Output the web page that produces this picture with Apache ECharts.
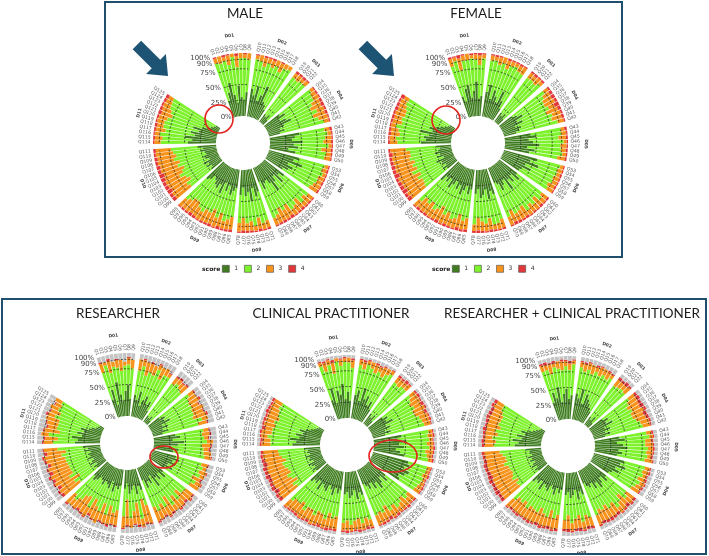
<!DOCTYPE html>
<html>
<head>
<meta charset="utf-8">
<script src="https://cdn.jsdelivr.net/npm/echarts@6/dist/echarts.min.js"></script>
<style>
  html, body { margin: 0; padding: 0; background: #fff; }
  #chart { width: 709px; height: 556px; }
</style>
</head>
<body>
<div id="chart"></div>
<script>
// question groups (domains), clockwise from the top
var groupNames = ['D01', 'D02', 'D03', 'D04', 'D05', 'D06', 'D07', 'D08', 'D09', 'D10', 'D11'];
var groupSizes = [9, 9, 4, 9, 8, 7, 11, 8, 14, 13, 12];
var questions = ['Q1','Q2','Q3','Q4','Q5','Q6','Q7','Q8','Q9',
  'Q10','Q11','Q12','Q13','Q14','Q15','Q16','Q17','Q18',
  'Q19','Q20','Q21','Q22',
  'Q34','Q35','Q36','Q37','Q38','Q39','Q40','Q41','Q42',
  'Q43','Q44','Q45','Q46','Q47','Q48','Q49','Q50',
  'Q53','Q54','Q55','Q56','Q57','Q58','Q59',
  'Q60','Q61','Q62','Q63','Q64','Q65','Q66','Q67','Q68','Q69','Q70',
  'Q71','Q72','Q73','Q74','Q75','Q76','Q77','Q78',
  'Q85','Q86','Q87','Q88','Q89','Q90','Q91','Q92','Q93','Q94','Q95','Q96','Q97','Q98',
  'Q99','Q100','Q101','Q102','Q103','Q104','Q105','Q106','Q107','Q108','Q109','Q110','Q111',
  'Q114','Q115','Q116','Q117','Q118','Q119','Q120','Q121','Q122','Q123','Q124','Q125'];
var scoreNames = ['1', '2', '3', '4'];
var radiusTicks = [0, 25, 50, 75, 90, 100];
var ringLevels = [25, 50, 75, 90];

// % of answers per score, one value per question
var male1 = [28,40,55,35,22,48,30,25,38, 45,35,50,28,38,55,30,25,20, 15,12,18,10, 30,38,25,35,42,28,20,24,18, 48,40,35,52,38,45,30,42, 50,42,58,36,46,40,32, 40,32,45,28,36,50,34,26,30,38,24, 38,45,30,50,35,42,28,40, 30,35,42,28,38,25,45,32,40,36,30,26,34,38, 22,18,25,20,28,16,22,24,18,20,26,22,30, 45,38,50,35,42,30,40,25,20,14,10,8];
var male2 = [62,48,36,48,73,30,62,67,52, 47,55,33,62,47,35,53,67,74, 73,75,72,80, 62,51,63,47,35,57,56,59,72, 40,52,53,33,55,37,60,46, 42,47,35,52,43,46,51, 48,51,45,50,49,38,41,55,44,45,62, 47,43,48,40,47,43,48,44, 46,46,43,45,45,46,34,45,44,44,43,47,45,45, 42,49,32,42,42,47,36,43,44,50,39,47,42, 43,47,40,47,44,56,43,52,61,71,76,79];
var male3 = [8,12,6,15,5,18,8,6,10, 6,10,14,8,12,10,15,8,6, 8,10,6,8, 6,8,10,14,18,12,20,15,8, 8,6,10,12,5,15,8,10, 6,8,5,10,8,12,14, 10,14,8,18,12,10,20,16,22,14,12, 12,10,18,8,15,12,20,14, 20,16,12,22,15,25,18,20,14,16,22,24,18,15, 30,28,35,32,25,30,34,28,32,26,30,28,24, 10,12,8,15,10,12,14,18,15,12,10,8];
var male4 = [2,0,3,2,0,4,0,2,0, 2,0,3,2,3,0,2,0,0, 4,3,4,2, 2,3,2,4,5,3,4,2,2, 4,2,2,3,2,3,2,2, 2,3,2,2,3,2,3, 2,3,2,4,3,2,5,3,4,3,2, 3,2,4,2,3,3,4,2, 4,3,3,5,2,4,3,3,2,4,5,3,3,2, 6,5,8,6,5,7,8,5,6,4,5,3,4, 2,3,2,3,4,2,3,5,4,3,4,5];

var female1 = [35,25,45,50,30,40,55,28,32, 40,52,30,45,36,28,48,34,22, 18,14,20,12, 25,32,40,28,36,22,30,26,20, 42,50,38,45,55,36,48,40, 55,45,60,40,50,38,35, 36,44,30,40,32,48,28,35,42,30,26, 42,36,48,32,40,45,30,38, 32,40,28,36,44,30,38,26,34,42,28,36,30,40, 20,26,18,24,22,30,16,25,20,28,22,18,24, 48,40,44,36,50,32,38,28,22,16,12,10];
var female2 = [50,67,30,40,60,52,35,53,60, 50,39,56,45,47,62,44,53,64, 69,74,66,79, 64,51,39,50,46,53,53,54,68, 48,40,47,48,33,53,44,45, 38,45,31,48,40,47,53, 49,46,50,48,51,42,50,47,42,45,58, 41,52,41,46,46,37,46,49, 46,43,45,46,41,46,45,45,45,42,46,45,46,46, 45,37,44,44,38,42,46,42,42,41,44,48,48, 37,48,38,49,40,50,46,53,59,68,75,76];
var female3 = [12,6,20,8,10,5,8,15,6, 8,6,12,10,14,8,6,10,12, 10,8,12,6, 8,12,15,18,10,20,14,16,10, 6,8,12,5,10,8,6,12, 5,8,6,10,8,12,10, 12,8,16,10,14,8,18,15,12,20,14, 14,10,8,18,12,15,20,10, 18,14,22,16,12,20,15,24,18,14,22,16,20,12, 28,32,30,26,34,24,30,28,32,26,30,28,25, 12,10,14,12,8,15,12,16,14,12,10,8];
var female4 = [3,2,5,2,0,3,2,4,2, 2,3,2,0,3,2,2,3,2, 3,4,2,3, 3,5,6,4,8,5,3,4,2, 4,2,3,2,2,3,2,3, 2,2,3,2,2,3,2, 3,2,4,2,3,2,4,3,4,5,2, 3,2,3,4,2,3,4,3, 4,3,5,2,3,4,2,5,3,2,4,3,4,2, 7,5,8,6,6,4,8,5,6,5,4,6,3, 3,2,4,3,2,3,4,3,5,4,3,6];

var res1 = [30,45,20,55,35,25,40,50,28, 35,28,42,20,30,38,25,32,18, 12,10,15,8, 22,30,26,35,20,28,18,24,16, 35,42,30,48,38,28,40,32, 38,45,35,42,30,40,28, 30,38,24,35,28,42,20,32,26,36,22, 35,28,40,25,32,38,22,30, 25,32,28,38,22,35,30,26,34,28,24,32,36,30, 18,22,15,25,20,16,24,19,22,17,26,20,28, 40,35,45,30,38,28,34,22,18,12,10,8];
var res2 = [45,40,51,25,43,47,40,32,48, 39,54,26,55,42,46,45,48,62, 63,70,61,65, 58,46,47,39,52,44,51,58,58, 45,35,50,36,38,51,40,50, 42,39,45,42,43,42,48, 45,36,40,43,38,38,40,44,41,40,45, 25,21,40,28,34,39,25,44, 40,38,32,38,37,39,38,32,42,31,38,40,42,41, 35,38,32,38,35,40,32,38,36,41,37,35,40, 35,32,37,35,33,42,36,57,54,66,66,70];
var res3 = [15,5,20,8,12,18,6,10,14, 18,10,22,14,16,8,20,12,6, 12,8,10,14, 10,14,18,12,20,16,22,10,14, 8,12,6,10,14,8,12,10, 10,6,12,8,14,10,16, 14,18,22,12,25,10,28,16,20,14,24, 30,38,12,35,20,15,40,18, 24,18,30,14,28,20,22,26,16,30,24,18,12,20, 32,28,35,26,30,34,28,32,25,30,28,30,22, 15,20,12,25,14,18,22,12,16,14,10,12];
var res4 = [2,0,3,0,2,0,0,2,0, 0,2,0,3,0,2,0,0,2, 3,4,2,3, 2,0,3,2,0,2,3,0,2, 2,3,2,0,2,3,0,2, 2,0,2,0,3,2,0, 3,2,4,2,3,0,4,2,3,2,3, 2,3,2,4,2,0,3,2, 3,2,4,2,3,0,2,4,2,3,4,2,0,3, 5,4,6,3,5,4,6,3,5,4,3,5,2, 2,3,0,2,3,2,0,3,2,0,2,0];
var resNA = [8,10,6,12,8,10,14,6,10, 8,6,10,8,12,6,10,8,12, 10,8,12,10, 8,10,6,12,8,10,6,8,10, 10,8,12,6,8,10,8,6, 8,10,6,8,10,6,8, 8,6,10,8,6,10,8,6,10,8,6, 8,10,6,8,12,8,10,6, 8,10,6,8,10,6,8,12,6,8,10,8,10,6, 10,8,12,8,10,6,10,8,12,8,6,10,8, 8,10,6,8,12,10,8,6,10,8,12,10];

var clin1 = [32,50,25,45,38,55,30,42,28, 38,46,30,52,35,42,28,36,24, 20,15,22,12, 28,35,30,40,25,32,22,30,20, 45,38,52,40,48,35,42,50, 58,62,55,65,60,52,56, 35,42,30,38,45,32,40,28,36,30,25, 40,35,45,30,38,42,32,36, 30,36,28,40,32,26,38,34,30,42,28,35,32,38, 20,24,18,22,26,16,22,20,25,18,22,20,26, 44,38,48,34,40,30,36,26,20,15,12,10];
var clin2 = [56,28,62,27,53,28,59,46,52, 48,34,59,33,44,42,50,49,65, 62,65,62,72, 55,44,45,39,49,43,58,52,64, 43,48,36,44,40,47,43,38, 31,27,31,24,28,34,28, 44,41,45,43,40,44,42,42,43,45,53, 41,41,39,45,40,42,45,45, 42,40,40,40,41,45,42,39,43,39,42,41,43,43, 39,39,34,37,38,40,36,42,39,39,40,46,41, 35,41,36,44,38,45,42,46,56,62,68,68];
var clin3 = [6,14,8,18,5,10,6,8,12, 8,12,6,10,14,8,16,10,6, 10,12,8,10, 10,14,18,12,20,16,14,12,10, 6,8,5,10,6,12,8,6, 6,5,8,4,6,8,10, 14,10,18,12,8,16,12,20,14,18,16, 12,15,10,18,14,10,16,12, 20,16,24,14,18,22,15,18,20,14,22,16,18,14, 30,28,34,30,26,32,30,28,26,30,28,26,24, 14,12,10,16,12,18,14,20,16,15,12,14];
var clin4 = [2,3,2,4,0,2,2,0,3, 2,3,2,0,3,2,2,0,2, 4,3,5,2, 3,4,2,5,3,4,2,3,2, 2,3,2,2,3,2,2,3, 2,2,3,2,2,3,2, 3,2,4,3,2,4,3,5,3,4,2, 3,4,2,4,3,2,4,3, 4,3,5,2,4,3,2,4,3,2,4,3,3,2, 6,5,8,7,5,6,8,5,6,7,5,4,4, 3,4,2,3,5,3,4,3,5,4,3,4];
var clinNA = [4,5,3,6,4,5,3,4,5, 4,5,3,5,4,6,4,5,3, 4,5,3,4, 4,3,5,4,3,5,4,3,4, 4,3,5,4,3,4,5,3, 3,4,3,5,4,3,4, 4,5,3,4,5,4,3,5,4,3,4, 4,5,4,3,5,4,3,4, 4,5,3,4,5,4,3,5,4,3,4,5,4,3, 5,4,6,4,5,6,4,5,4,6,5,4,5, 4,5,4,3,5,4,4,5,3,4,5,4];

var rc1 = [30,45,35,52,28,40,48,32,38, 42,35,50,28,45,38,32,26,22, 16,12,20,10, 26,34,28,38,22,30,20,28,18, 40,48,35,45,52,38,44,36, 50,45,55,40,48,38,34, 34,40,28,36,42,30,38,26,32,28,22, 38,32,44,28,36,40,30,35, 28,34,26,38,30,24,36,32,28,40,26,33,30,36, 18,22,16,24,20,15,22,18,24,16,20,19,25, 42,36,46,32,40,28,35,24,18,14,10,8];
var rc2 = [51,37,39,32,53,38,36,46,49, 42,43,33,49,38,41,51,53,62, 61,67,61,69, 52,39,40,35,47,39,53,50,62, 43,39,45,35,32,44,40,45, 34,37,30,39,37,43,43, 40,40,39,41,41,40,38,41,40,40,54, 37,38,36,40,37,40,37,40, 40,40,36,37,41,40,37,39,41,36,41,40,39,41, 38,36,36,36,36,39,34,39,39,41,38,43,41, 33,36,32,38,35,40,38,47,52,59,67,69];
var rc3 = [10,8,16,6,12,14,8,10,6, 8,12,10,15,8,14,10,12,6, 12,10,8,12, 12,16,20,14,22,18,16,14,12, 8,6,10,12,8,10,6,12, 8,10,6,12,8,10,14, 16,12,20,14,10,18,14,22,18,20,16, 15,18,12,20,16,12,22,14, 22,18,26,16,20,24,18,20,22,15,24,18,20,16, 32,30,35,28,32,34,30,30,26,32,30,28,25, 15,18,12,20,14,22,16,20,18,15,14,12];
var rc4 = [3,5,2,4,0,3,2,4,2, 2,3,2,0,3,2,0,3,2, 5,4,6,3, 4,6,5,7,4,6,5,3,2, 3,2,3,2,3,2,3,2, 2,3,2,3,2,3,2, 4,3,6,3,2,5,4,6,4,5,3, 4,5,3,6,4,3,5,4, 4,3,5,3,4,5,3,4,3,2,4,3,4,2, 6,5,8,6,5,7,8,6,5,6,5,4,4, 4,5,3,4,6,3,5,4,6,5,4,5];
var rcNA = [6,5,8,6,7,5,6,8,5, 6,7,5,8,6,5,7,6,8, 6,7,5,6, 6,5,7,6,5,7,6,5,6, 6,5,7,6,5,6,7,5, 6,5,7,6,5,6,7, 6,5,7,6,5,7,6,5,6,7,5, 6,7,5,6,7,5,6,7, 6,5,7,6,5,7,6,5,6,7,5,6,7,5, 6,7,5,6,7,5,6,7,6,5,7,6,5, 6,5,7,6,5,7,6,5,6,7,5,6];

var scoreColors = ['#3f7d20', '#7ff22e', '#f7941d', '#e2383b'];
var naColor = '#c4c4c4';
var frameColor = '#1f4f6d';

var panels = [
  { title: 'MALE', tx: 245, ty: 13, center: [243, 143], scores: [male1, male2, male3, male4] },
  { title: 'FEMALE', tx: 476, ty: 13, center: [478, 143], scores: [female1, female2, female3, female4] },
  { title: 'RESEARCHER', tx: 118, ty: 313, center: [127, 443], scores: [res1, res2, res3, res4], na: resNA },
  { title: 'CLINICAL PRACTITIONER', tx: 331, ty: 313, center: [347, 445], scores: [clin1, clin2, clin3, clin4], na: clinNA },
  { title: 'RESEARCHER + CLINICAL PRACTITIONER', tx: 572, ty: 313, center: [568, 446], scores: [rc1, rc2, rc3, rc4], na: rcNA }
];

// angle slots: questions, one empty slot between domains, a wide empty wedge at the end
var TAIL_GAP = 13;
var cats = [], slots = [], groupSpans = [];
var k = 0;
groupSizes.forEach(function (n, g) {
  var first = cats.length;
  for (var j = 0; j < n; j++) { cats.push(questions[k]); slots.push(k); k++; }
  groupSpans.push([100, first, cats.length - 1, g]);
  var gaps = g < groupSizes.length - 1 ? 1 : TAIL_GAP;
  for (var j2 = 0; j2 < gaps; j2++) { cats.push('_' + cats.length); slots.push(-1); }
});
function expand(arr) {
  return slots.map(function (i) { return i < 0 ? '-' : arr[i]; });
}

var polar = [], angleAxis = [], radiusAxis = [], series = [];
panels.forEach(function (p, i) {
  polar.push({ center: p.center, radius: [27, 90] });
  angleAxis.push({
    polarIndex: i, type: 'category', data: cats, startAngle: 110, clockwise: true,
    axisLine: { show: false }, axisTick: { show: false }, axisLabel: { show: false }, splitLine: { show: false }
  });
  radiusAxis.push({
    polarIndex: i, type: 'value', min: 0, max: 100, interval: 25,
    axisLine: { show: false }, axisTick: { show: false }, splitLine: { show: false }, axisLabel: { show: false }
  });
  p.scores.forEach(function (arr, s) {
    series.push({
      type: 'bar', coordinateSystem: 'polar', polarIndex: i, name: scoreNames[s], stack: 'st' + i,
      data: expand(arr), barCategoryGap: '14%', itemStyle: { color: scoreColors[s] }, silent: true
    });
  });
  if (p.na) {
    series.push({
      type: 'bar', coordinateSystem: 'polar', polarIndex: i, name: 'NA', stack: 'st' + i,
      data: expand(p.na), barCategoryGap: '14%', itemStyle: { color: naColor }, silent: true
    });
  }
  ringLevels.forEach(function (lv) {
    series.push({
      type: 'line', coordinateSystem: 'polar', polarIndex: i, silent: true, z: 5,
      data: slots.map(function (s) { return s < 0 ? '-' : lv; }),
      symbol: 'none', lineStyle: { color: '#1a1a1a', width: 0.7, type: [2, 1.5] }
    });
  });
  // percentage labels along the edge of the empty wedge
  series.push({
    type: 'custom', coordinateSystem: 'polar', polarIndex: i, silent: true, z: 6,
    data: radiusTicks.map(function (v) { return [v, 0]; }),
    renderItem: function (params, api) {
      var cs = params.coordSys;
      var v = api.value(0);
      var a = api.coord([v, 0]), b = api.coord([v, 1]);
      var ta = Math.atan2(a[1] - cs.cy, a[0] - cs.cx), tb = Math.atan2(b[1] - cs.cy, b[0] - cs.cx);
      var edge = ta - (tb - ta) / 2;
      var rr = Math.sqrt((a[0] - cs.cx) * (a[0] - cs.cx) + (a[1] - cs.cy) * (a[1] - cs.cy));
      return {
        type: 'text', x: cs.cx + Math.cos(edge) * rr - 2, y: cs.cy + Math.sin(edge) * rr,
        style: { text: v + '%', fontSize: 7, fill: '#444', fontFamily: 'DejaVu Sans', align: 'right', verticalAlign: 'middle' }
      };
    }
  });
  // question labels, written outward along the radius
  series.push({
    type: 'custom', coordinateSystem: 'polar', polarIndex: i, silent: true, z: 6,
    data: slots.map(function (s, idx) { return s < 0 ? null : [100, idx, s]; }).filter(Boolean),
    renderItem: function (params, api) {
      var cs = params.coordSys;
      var pt = api.coord([api.value(0), api.value(1)]);
      var dx = pt[0] - cs.cx, dy = pt[1] - cs.cy, len = Math.sqrt(dx * dx + dy * dy);
      var th = Math.atan2(dy, dx);
      var left = dx < -0.01;
      return {
        type: 'text', x: pt[0] + dx / len * 2.5, y: pt[1] + dy / len * 2.5,
        rotation: left ? Math.PI - th : -th,
        style: { text: questions[api.value(2)], fontSize: 4.6, fill: '#5a5a5a', fontFamily: 'DejaVu Sans',
                 align: left ? 'right' : 'left', verticalAlign: 'middle' }
      };
    }
  });
  // domain names, around the outside
  series.push({
    type: 'custom', coordinateSystem: 'polar', polarIndex: i, silent: true, z: 6,
    data: groupSpans,
    renderItem: function (params, api) {
      var cs = params.coordSys;
      var a = api.coord([100, api.value(1)]), b = api.coord([100, api.value(2)]);
      var ax = a[0] - cs.cx, ay = a[1] - cs.cy, bx = b[0] - cs.cx, by = b[1] - cs.cy;
      var la = Math.sqrt(ax * ax + ay * ay), lb = Math.sqrt(bx * bx + by * by);
      var th = Math.atan2(ay / la + by / lb, ax / la + bx / lb);
      var rr = cs.r + 18;
      var dy = Math.sin(th);
      return {
        type: 'text', x: cs.cx + Math.cos(th) * rr, y: cs.cy + dy * rr,
        rotation: dy > 0.05 ? -(th - Math.PI / 2) : -(th + Math.PI / 2),
        style: { text: groupNames[api.value(3)], fontSize: 4.4, fontWeight: 'bold', fill: '#444', fontFamily: 'DejaVu Sans',
                 align: 'center', verticalAlign: 'middle' }
      };
    }
  });
});

function arrow(tipX, tipY) {
  var ux = Math.SQRT1_2, uy = Math.SQRT1_2, nx = -Math.SQRT1_2, ny = Math.SQRT1_2;
  var local = [[0, 0], [-17, 14], [-17, 6], [-44, 6], [-44, -6], [-17, -6], [-17, -14]];
  return {
    type: 'polygon', z: 100,
    shape: { points: local.map(function (q) { return [tipX + q[0] * ux + q[1] * nx, tipY + q[0] * uy + q[1] * ny]; }) },
    style: { fill: '#1d5474' }
  };
}
function ring(cx, cy, rx, ry) {
  return { type: 'ellipse', z: 100, shape: { cx: cx, cy: cy, rx: rx, ry: ry }, style: { fill: 'none', stroke: '#e3231e', lineWidth: 1.6 } };
}

var graphics = [
  { type: 'rect', z: 100, shape: { x: 105, y: 2, width: 517, height: 255 }, style: { fill: 'none', stroke: frameColor, lineWidth: 2 } },
  { type: 'rect', z: 100, shape: { x: 2, y: 299, width: 704, height: 255 }, style: { fill: 'none', stroke: frameColor, lineWidth: 2 } },
  { type: 'text', x: 202, y: 269, z: 100, style: { text: 'score', fontSize: 6, fontWeight: 'bold', fill: '#222', fontFamily: 'DejaVu Sans', verticalAlign: 'middle' } },
  { type: 'text', x: 432, y: 269, z: 100, style: { text: 'score', fontSize: 6, fontWeight: 'bold', fill: '#222', fontFamily: 'DejaVu Sans', verticalAlign: 'middle' } },
  arrow(168, 76), arrow(394, 76),
  ring(219, 119, 14, 14), ring(446, 120, 14, 14), ring(164, 457, 14, 11), ring(393, 456, 24, 16)
];
panels.forEach(function (p) {
  graphics.push({ type: 'text', x: p.tx, y: p.ty, z: 100, scaleX: 0.96,
    style: { text: p.title, fontSize: 14, fill: '#1b1b1b', fontFamily: 'Lato', align: 'center', verticalAlign: 'middle' } });
});

var legendBase = { data: scoreNames, top: 265, itemWidth: 7, itemHeight: 7, itemGap: 6, icon: 'rect',
  itemStyle: { borderColor: '#444', borderWidth: 0.6 }, textStyle: { fontSize: 6, color: '#333', fontFamily: 'DejaVu Sans' }, padding: 0, selectedMode: false };

var myChart = echarts.init(document.getElementById('chart'));
var option = {
  animation: false,
  legend: [
    Object.assign({}, legendBase, { left: 222 }),
    Object.assign({}, legendBase, { left: 452 })
  ],
  polar: polar,
  angleAxis: angleAxis,
  radiusAxis: radiusAxis,
  series: series,
  graphic: { elements: graphics }
};
myChart.setOption(option, true);
</script>
</body>
</html>
